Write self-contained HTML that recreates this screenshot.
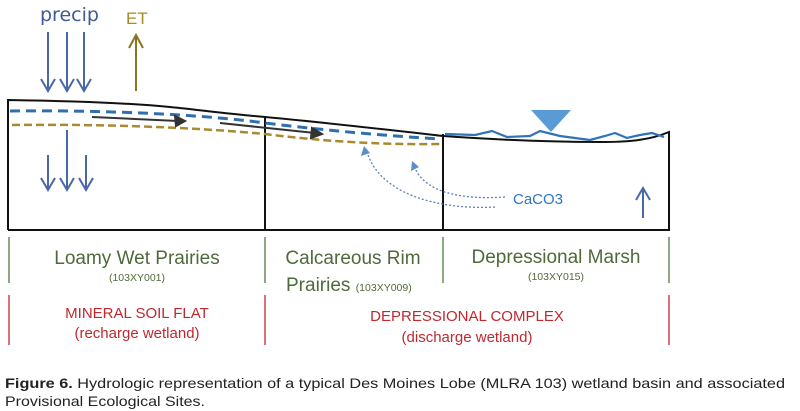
<!DOCTYPE html>
<html><head><meta charset="utf-8"><style>
body{margin:0;background:#fff;width:800px;height:411px;overflow:hidden}
svg{display:block}
</style></head><body>
<svg width="800" height="411" viewBox="0 0 800 411" font-family="'Liberation Sans',sans-serif">
<!-- precip -->
<text x="40" y="21" font-size="19" fill="#3f5a94" font-family="'DejaVu Sans',sans-serif">precip</text>
<g stroke="#4a68a8" stroke-width="2" fill="none">
<path d="M48 32V91M41 79L48 91L55 79"/>
<path d="M67 32V91M60 79L67 91L74 79"/>
<path d="M84 32V91M77 79L84 91L91 79"/>
<path d="M48 155V190M41 178L48 190L55 178"/>
<path d="M67 130V190M60 178L67 190L74 178"/>
<path d="M86 155V190M79 178L86 190L93 178"/>
<path d="M643 218V188M636 200L643 188L650 200"/>
</g>
<text x="126" y="24" font-size="17" fill="#a88a20">ET</text>
<path d="M136 91V35M129 48L136 35L143 48" stroke="#8a7420" stroke-width="2" fill="none"/>
<!-- outline -->
<path d="M8 230V100C70 101 130 103 170 107C200 110 230 114 265 117C320 122 390 130 443 136" stroke="#111" stroke-width="2" fill="none"/>
<path d="M443 136C500 140 560 142 600 142C630 142 650 140 669 132V230H8" stroke="#111" stroke-width="2" fill="none"/>
<path d="M265 116V230M443 134V230" stroke="#111" stroke-width="2"/>
<!-- water table -->
<path d="M10 111C100 110 200 114 265 123C330 131 390 136 440 139" stroke="#2f6fae" stroke-width="3" stroke-dasharray="10 6" fill="none"/>
<path d="M12 125C100 124 190 127 265 134C320 141 380 145 440 144" stroke="#a88a30" stroke-width="2.5" stroke-dasharray="8 4" fill="none"/>
<g stroke="#333" stroke-width="2" fill="#333">
<path d="M92 117L178 121" fill="none"/><path d="M185 121L175 116L176 126Z"/>
<path d="M220 123L315 133" fill="none"/><path d="M322 134L312 128L311 138Z"/>
</g>
<!-- CaCO3 dotted arrows -->
<g stroke="#5b82b8" stroke-width="1.3" stroke-dasharray="2 2" fill="none">
<path d="M495 207C440 210 380 195 367 152"/>
<path d="M505 197C460 200 425 192 415 168"/>
</g>
<path d="M364 146L361 156L370 153Z M412 161L411 171L419 167Z" fill="#5b8fc8"/>
<text x="513" y="204" font-size="15" fill="#2f74c0">CaCO3</text>
<!-- marsh water -->
<path d="M445 134L475 135L492 131L507 137L530 136L540 131L560 136L575 138L590 140L605 136L615 133L627 138L640 135L652 133L664 137" stroke="#2f73b8" stroke-width="2.2" fill="none"/>
<path d="M531 110H571L551 132Z" fill="#5b9bd5"/>
<!-- ticks -->
<g stroke="#4f7a3a" stroke-width="1.3">
<path d="M9 237V283M265 237V283M443 237V283M669 237V283"/>
</g>
<g stroke="#c0282e" stroke-width="1.3">
<path d="M9 295V345M265 295V345M669 295V345"/>
</g>
<g fill="#4e6a3a" font-size="19" text-anchor="middle">
<text x="137" y="264">Loamy Wet Prairies</text>
<text x="353" y="264">Calcareous Rim</text>
<text x="556" y="263">Depressional Marsh</text>
</g>
<g fill="#4e6a3a" font-size="10.5" text-anchor="middle">
<text x="137" y="281">(103XY001)</text>
<text x="556" y="280">(103XY015)</text>
</g>
<text x="286" y="291" font-size="19" fill="#4e6a3a">Prairies <tspan font-size="10.5">(103XY009)</tspan></text>
<g fill="#c0282e" font-size="15" text-anchor="middle">
<text x="137" y="318">MINERAL SOIL FLAT</text>
<text x="137" y="338">(recharge wetland)</text>
<text x="467" y="321">DEPRESSIONAL COMPLEX</text>
<text x="467" y="342">(discharge wetland)</text>
</g>
<text x="5" y="388" font-size="14" fill="#222" textLength="780" lengthAdjust="spacingAndGlyphs"><tspan font-weight="bold">Figure 6.</tspan> Hydrologic representation of a typical Des Moines Lobe (MLRA 103) wetland basin and associated</text>
<text x="5" y="406" font-size="14" fill="#222" textLength="200" lengthAdjust="spacingAndGlyphs">Provisional Ecological Sites.</text>
</svg>
</body></html>
